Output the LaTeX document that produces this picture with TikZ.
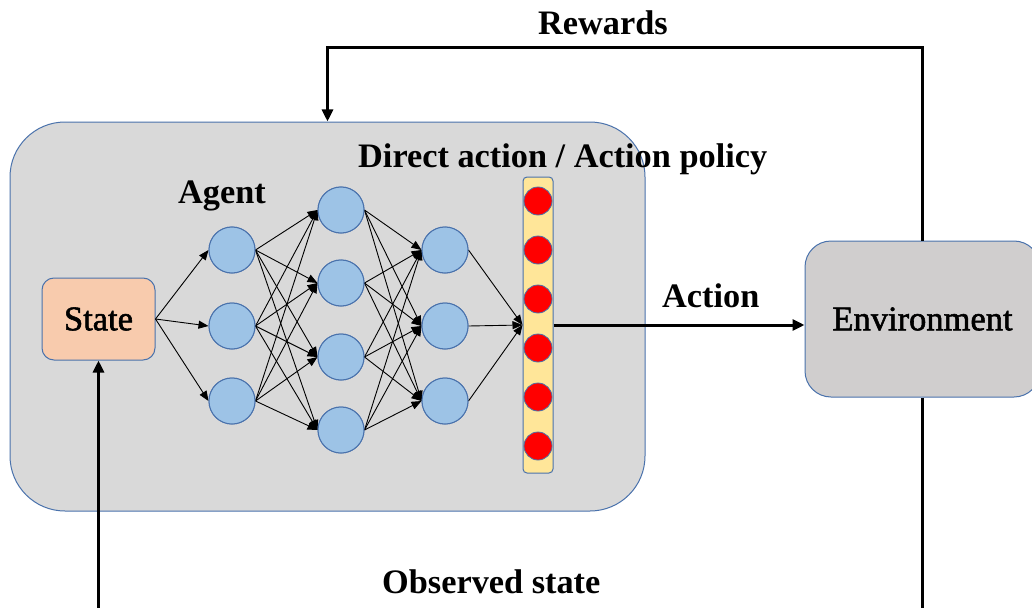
\documentclass[tikz,border=0pt]{standalone}
\usepackage{fontspec}
\setmainfont{LiberationSerif}[Extension=.ttf, UprightFont=*-Regular, BoldFont=*-Bold]
\newfontfamily\boxfont{LiberationSerif}[Extension=.ttf, UprightFont=*-Regular, FakeBold=1.6]
\usetikzlibrary{arrows.meta}

\definecolor{panel}{HTML}{D9D9D9}
\definecolor{envfill}{HTML}{D0CECE}
\definecolor{statefill}{HTML}{F8CBAD}
\definecolor{neuron}{HTML}{9DC3E6}
\definecolor{barfill}{HTML}{FFE699}
\definecolor{edge}{HTML}{4A72AC}

\begin{document}
\begin{tikzpicture}[x=1pt,y=-1pt,
  lbl/.style={font=\fontsize{34.3}{40}\selectfont\bfseries, inner sep=0, anchor=base west},
  boxtext/.style={font=\boxfont\fontsize{34.5}{40}\selectfont},
  neuronnode/.style={circle, draw=edge, fill=neuron, line width=1pt, minimum size=46pt, inner sep=0},
  outnode/.style={circle, draw=edge, fill=red, line width=0.8pt, minimum size=28pt, inner sep=0},
  link/.style={line width=0.9pt, -{Triangle[length=10pt,width=8pt]}},
  flow/.style={line width=3pt, -{Triangle[length=12pt,width=11pt]}}
]
\useasboundingbox (0,0) rectangle (1032,607);
\clip (0,0) rectangle (1032,607);
\fill[white] (0,0) rectangle (1032,607);

% agent panel
\node[draw=edge, fill=panel, line width=1pt, rounded corners=55pt,
      minimum width=635pt, minimum height=389pt, inner sep=0] (agent) at (327.5,316.5) {};

% environment and state boxes
\node[draw=edge, fill=envfill, line width=1pt, rounded corners=26pt,
      minimum width=235pt, minimum height=156pt, inner sep=0, boxtext] (env) at (922.5,319) {Environment};
\node[draw=edge, fill=statefill, line width=1pt, rounded corners=12pt,
      minimum width=113pt, minimum height=82pt, inner sep=0, boxtext] (state) at (98.5,319) {State};

% output bar
\node[draw=edge, fill=barfill, line width=1pt, rounded corners=4pt,
      minimum width=30pt, minimum height=296pt, inner sep=0] (bar) at (538,325) {};

% neuron positions
\coordinate (p1) at (232,250);
\coordinate (p2) at (232,326);
\coordinate (p3) at (232,401);
\coordinate (q1) at (341,210);
\coordinate (q2) at (341,283);
\coordinate (q3) at (341,357);
\coordinate (q4) at (341,430);
\coordinate (r1) at (445,250);
\coordinate (r2) at (445,326);
\coordinate (r3) at (445,401);

% neurons
\foreach \n in {p1,p2,p3,q1,q2,q3,q4,r1,r2,r3}
  \node[neuronnode] (n\n) at (\n) {};

% links between layers
\foreach \b in {p1,p2,p3}
  \draw[link] (state.east) -- (n\b.west);
\foreach \a in {p1,p2,p3}
  \foreach \b in {q1,q2,q3,q4}
    \draw[link] (n\a.east) -- (n\b.west);
\foreach \a in {q1,q2,q3,q4}
  \foreach \b in {r1,r2,r3}
    \draw[link] (n\a.east) -- (n\b.west);
\foreach \a in {r1,r2,r3}
  \draw[link] (n\a.east) -- (bar.west);

% redraw neurons over link ends
\foreach \n in {p1,p2,p3,q1,q2,q3,q4,r1,r2,r3}
  \node[neuronnode] at (\n) {};

% output units
\foreach \k in {0,...,5}
  \node[outnode] (o\k) at (538,{201+49*\k}) {};

% action, reward and observation flows
\draw[flow] (bar.east) -- (bar.east -| env.west);
\coordinate (rtop) at (0,48);
\draw[flow] (env.north) -- (env.north |- rtop) -| (agent.north);
\coordinate (obot) at (0,640);
\draw[flow] (env.south) -- (env.south |- obot) -| (state.south);

% labels
\node[lbl] (rewards) at (538,35) {Rewards};
\node[lbl] (policy) at (358,167) {Direct action / Action policy};
\node[lbl] (agentlbl) at (178,203) {Agent};
\node[lbl] (action) at (662,307) {Action};
\node[lbl] (observed) at (382,593) {Observed state};
\end{tikzpicture}
\end{document}
